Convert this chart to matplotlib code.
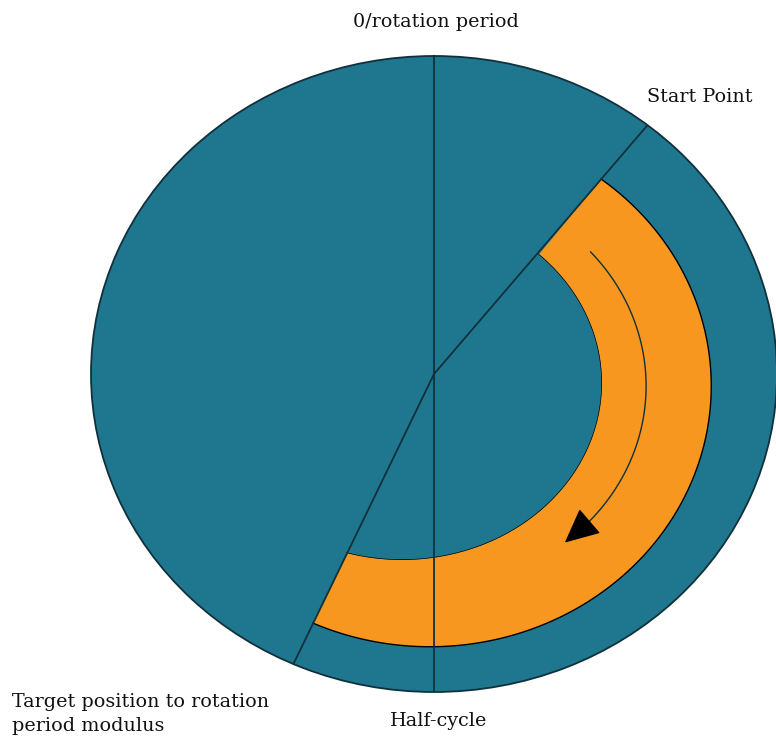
"""
Rotation-period diagram: a full period drawn as an ellipse, with the
clockwise travel from the start point to the target position shown as
an orange band and an arrow.
"""

import numpy as np
import matplotlib
matplotlib.use('Agg')
import matplotlib.pyplot as plt

# Angles are degrees clockwise from the top (0 = 0/rotation period).
MARK_ANGLES = [0.0, 180.0]      # 0/rotation period, half-cycle
START_ANGLE = 38.5
TARGET_ANGLE = 204.2

# Orange band, in its own (slightly offset) frame.
BAND_FROM, BAND_TO = 37.5, 204.6
BAND_OUTER = 0.82
INNER_FROM, INNER_TO = 42.8, 196.0

ARROW_RADIUS = 0.63
ARROW_FROM = 48.0
ARROW_TO = 133.0
ARROW_TIP = 141.4

LABEL_TOP = '0/rotation period'
LABEL_BOTTOM = 'Half-cycle'
LABEL_START = 'Start Point'
LABEL_TARGET = 'Target position to rotation\nperiod modulus'

TEAL = '#1F778F'
ORANGE = '#F7971F'
EDGE = '#10303B'

W, H = 776, 736
plt.rcParams['font.family'] = ['DejaVu Serif']


def rect(cx, cy, rx, ry):
    # axes rectangle (figure fraction) for an ellipse centred at pixel cx, cy
    return [(cx - rx) / W, (H - cy - ry) / H, 2 * rx / W, 2 * ry / H]


def polar_axes(fig, box, face='none', edge=None):
    ax = fig.add_axes(box, projection='polar')
    ax.set_theta_zero_location('N')
    ax.set_theta_direction(-1)
    ax.set_aspect('auto')
    ax.set_facecolor(face)
    ax.set_xticks([])
    ax.set_yticks([])
    ax.grid(False)
    if edge is None:
        ax.spines['polar'].set_visible(False)
    else:
        ax.spines['polar'].set_edgecolor(edge)
        ax.spines['polar'].set_linewidth(1.3)
    return ax


def arc(ax, t0, t1, r, **kw):
    t = np.linspace(t0, t1, 100)
    ax.plot(t, np.full_like(t, r), **kw)


def sector(ax, t0, t1, r, color):
    ax.bar((t0 + t1) / 2, r, width=t1 - t0, bottom=0, color=color, linewidth=0)
    arc(ax, t0, t1, r, color='black', linewidth=1.0)


fig = plt.figure(figsize=(W / 100, H / 100), dpi=100)
start, target = np.deg2rad(START_ANGLE), np.deg2rad(TARGET_ANGLE)

main_box = rect(434, 374, 343, 318)
ax_bg = polar_axes(fig, main_box, face=TEAL, edge=EDGE)
ax_bg.set_ylim(0, 1)

# orange travel band: outer edge plus the clockwise arrow
ax_band = polar_axes(fig, rect(430, 386, 343, 318))
sector(ax_band, np.deg2rad(BAND_FROM), np.deg2rad(BAND_TO), BAND_OUTER, ORANGE)
arc(ax_band, np.deg2rad(ARROW_FROM), np.deg2rad(ARROW_TO), ARROW_RADIUS,
    color=EDGE, linewidth=1.0)
ax_band.annotate('', xy=(np.deg2rad(ARROW_TIP), ARROW_RADIUS),
                 xytext=(np.deg2rad(ARROW_TO), ARROW_RADIUS),
                 arrowprops=dict(arrowstyle='-|>,head_length=1.1,head_width=0.52',
                                 color='black', lw=1, mutation_scale=20,
                                 shrinkA=0, shrinkB=0),
                 annotation_clip=False)
ax_band.set_ylim(0, 1)

# inner edge of the band: teal cover with its own egg-like ellipse
ax_in = polar_axes(fig, rect(402, 383, 200, 177))
sector(ax_in, np.deg2rad(INNER_FROM), np.deg2rad(INNER_TO), 1.0, TEAL)
ax_in.set_ylim(0, 1)

# rays and labels on top
ax_top = polar_axes(fig, main_box)
for ang in MARK_ANGLES + [START_ANGLE, TARGET_ANGLE]:
    t = np.deg2rad(ang)
    ax_top.plot([t, t], [0, 1], color=EDGE, linewidth=1.3)
ax_top.set_ylim(0, 1)

txt = dict(textcoords='offset pixels', fontsize=13.8, color='#111111',
           annotation_clip=False)
ax_top.annotate(LABEL_TOP, xy=(0, 1), xytext=(2, 34),
                ha='center', va='center', **txt)
ax_top.annotate(LABEL_START, xy=(start, 1), xytext=(-1, 28),
                ha='left', va='center', **txt)
ax_top.annotate(LABEL_BOTTOM, xy=(np.pi, 1), xytext=(5, -29),
                ha='center', va='center', **txt)
ax_top.annotate(LABEL_TARGET, xy=(target, 1), xytext=(-281, -29),
                ha='left', va='top', linespacing=1.4, **txt)

fig.savefig('out.png', dpi=100)
